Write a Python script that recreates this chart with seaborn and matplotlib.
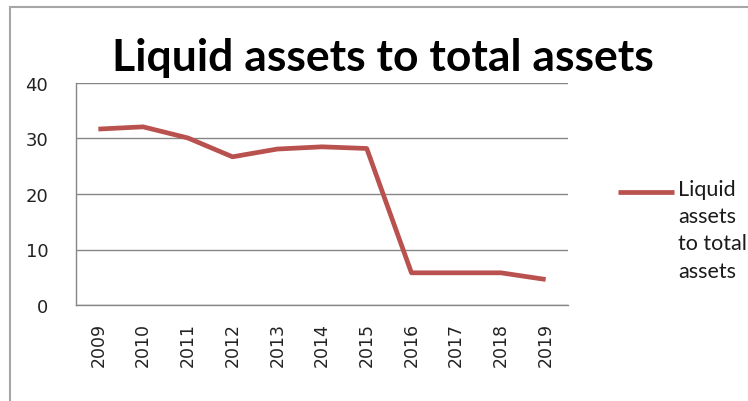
import matplotlib
matplotlib.use("Agg")
import matplotlib.pyplot as plt
import matplotlib.patches as mpatches
import numpy as np
import pandas as pd
import seaborn as sns

# Data
years = ["2009", "2010", "2011", "2012", "2013", "2014", "2015", "2016", "2017", "2018", "2019"]
ratio = [31.7, 32.1, 30.1, 26.7, 28.1, 28.5, 28.2, 5.8, 5.8, 5.8, 4.6]
series_name = "Liquid assets to total assets"
y_ticks = [0, 10, 20, 30, 40]

df = pd.DataFrame({"year": years, "value": ratio, "series": series_name})

sns.set_style("white")
plt.rcParams["font.family"] = ["DejaVu Sans"]

W, H = 748, 402
fig = plt.figure(figsize=(W / 100, H / 100), dpi=100)
fig.patch.set_facecolor("white")

# Chart frame
fig.add_artist(mpatches.Rectangle((10 / W, -0.05), 1.0, 1 - 8 / H + 0.05,
                                  transform=fig.transFigure, fill=False,
                                  edgecolor="#a6a6a6", linewidth=1.5))

ax = fig.add_axes([76 / W, 1 - 306 / H, (568 - 76) / W, (306 - 84) / H])

line_color = "#b9514e"
x = np.arange(len(years))
sns.lineplot(data=df.assign(x=x), x="x", y="value", hue="series",
             palette=[line_color], linewidth=3.4, ax=ax, legend=True,
             solid_joinstyle="round", solid_capstyle="butt")

ax.set_xlim(-0.5, len(years) - 0.5)
ax.set_ylim(0, 40)
ax.set_yticks(y_ticks)
ax.set_yticklabels([str(t) for t in y_ticks])
ax.set_xticks(x)
ax.set_xticklabels(years, rotation=90)
ax.set_xticks(np.arange(-0.5, len(years), 1.0), minor=True)
ax.tick_params(axis="x", which="major", length=0, pad=12, labelsize=12.5, colors="#222222")
ax.tick_params(axis="x", which="minor", length=7, width=1, color="#868686", direction="out")
ax.tick_params(axis="y", which="major", length=7, width=1, color="#868686", direction="out",
               labelsize=13, pad=13, labelcolor="#222222")
ax.set_xlabel("")
ax.set_ylabel("")

ax.grid(axis="y", color="#868686", linewidth=1)
ax.set_axisbelow(True)
for s in ["top", "right"]:
    ax.spines[s].set_visible(False)
for s in ["left", "bottom"]:
    ax.spines[s].set_color("#868686")
    ax.spines[s].set_linewidth(1)

# Legend to the right of the plot, key aligned with the first text line
handles, labels = ax.get_legend_handles_labels()
leg = ax.legend(handles, ["Liquid\nassets\nto total\nassets"], loc="upper left",
                bbox_to_anchor=(618 / W, 1 - 180 / H), bbox_transform=fig.transFigure,
                frameon=False, handlelength=2.6, handletextpad=0.2,
                prop={"family": "Lato", "size": 15.5}, borderpad=0, borderaxespad=0)
for t in leg.get_texts():
    t.set_linespacing(1.45)
    t.set_color("#1a1a1a")
fig.canvas.draw()
key = leg.get_lines()[0]
txt_box = leg.get_texts()[0].get_window_extent()
key_box = key.get_window_extent()
first_line_y = txt_box.y1 - 13  # middle of the first text line, in pixels
shift = (first_line_y - (key_box.y0 + key_box.y1) / 2) * 72 / fig.dpi
key.set_ydata(np.asarray(key.get_ydata()) + shift)

fig.text(383 / W, 1 - 58 / H, series_name, ha="center", va="center",
         fontsize=32, fontweight="bold", family="Lato", color="black")

fig.savefig("out.png", dpi=100)
